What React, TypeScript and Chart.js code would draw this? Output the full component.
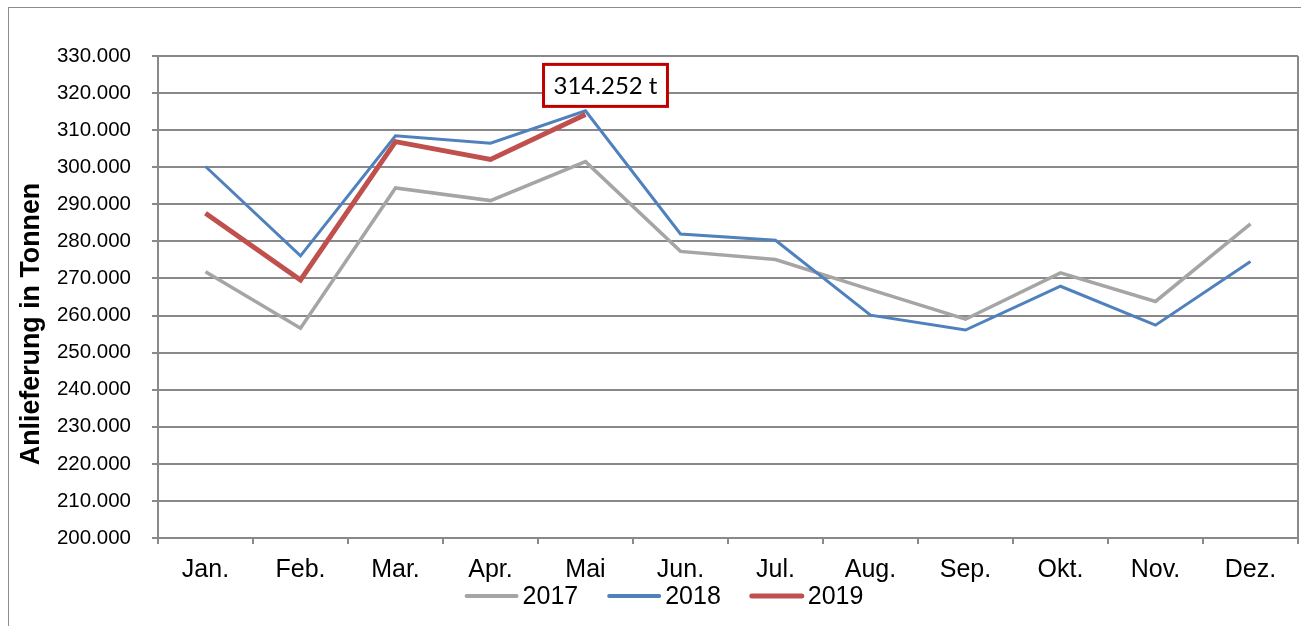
import React, { useEffect, useRef } from 'react';
import { Chart, registerables } from 'chart.js';

Chart.register(...registerables);

const months = ['Jan.', 'Feb.', 'Mar.', 'Apr.', 'Mai', 'Jun.', 'Jul.', 'Aug.', 'Sep.', 'Okt.', 'Nov.', 'Dez.'];
const values2017 = [271800, 256600, 294400, 291000, 301500, 277300, 275100, 267000, 259000, 271500, 263800, 284700];
const values2018 = [300200, 276100, 308500, 306500, 315200, 282000, 280300, 260100, 256100, 267900, 257400, 274600];
const values2019 = [287600, 269600, 306900, 302100, 314252, null, null, null, null, null, null, null];
const seriesLabels = ['2017', '2018', '2019'];
const seriesColors = ['#a5a5a5', '#4f81bd', '#c0504d'];
const seriesWidths = [3.5, 3, 5];
const yMin = 200000;
const yMax = 330000;
const yStep = 10000;
const axisTitle = 'Anlieferung in Tonnen';
const calloutSeries = 2;
const calloutIndex = 4;
const calloutUnit = ' t';

const GRID = '#898989';
const FONT = '"Liberation Sans", Arial, sans-serif';

function fmt(v: number): string {
  return String(Math.round(v)).replace(/\B(?=(\d{3})+(?!\d))/g, '.');
}

const decorPlugin = {
  id: 'decor',
  afterDatasetsDraw(chart: any) {
    const ctx = chart.ctx;
    const area = chart.chartArea;
    // right border of plot area
    ctx.save();
    ctx.strokeStyle = GRID;
    ctx.lineWidth = 2;
    ctx.beginPath();
    ctx.moveTo(Math.round(area.right), area.top);
    ctx.lineTo(Math.round(area.right), area.bottom);
    ctx.stroke();
    ctx.restore();

    // callout label
    const meta = chart.getDatasetMeta(calloutSeries);
    const pt = meta.data[calloutIndex];
    if (pt) {
      const val = chart.data.datasets[calloutSeries].data[calloutIndex];
      const text = fmt(val) + calloutUnit;
      ctx.save();
      ctx.font = '24px Lato, "Open Sans", sans-serif';
      const tw = ctx.measureText(text).width;
      const w = tw + 20;
      const h = 42;
      const cx = pt.x + 20;
      const bottom = pt.y - 8;
      const left = cx - w / 2;
      const top = bottom - h;
      ctx.fillStyle = '#ffffff';
      ctx.fillRect(left, top, w, h);
      ctx.strokeStyle = '#c00000';
      ctx.lineWidth = 3;
      ctx.strokeRect(left, top, w, h);
      ctx.fillStyle = '#000000';
      ctx.textAlign = 'center';
      ctx.textBaseline = 'middle';
      ctx.fillText(text, cx, top + h / 2 + 1);
      ctx.restore();
    }
  },
  afterDraw(chart: any) {
    const ctx = chart.ctx;
    // axis title
    ctx.save();
    ctx.font = 'bold 26.8px ' + FONT;
    ctx.fillStyle = '#000000';
    ctx.textAlign = 'center';
    ctx.textBaseline = 'middle';
    ctx.translate(23, 316);
    ctx.rotate(-Math.PI / 2);
    ctx.fillText(axisTitle, 0, 0);
    ctx.restore();

    // legend
    ctx.save();
    ctx.font = '25px ' + FONT;
    const lineLen = 54;
    const gap = 4;
    const spacing = 29;
    const ds = chart.data.datasets;
    const widths = ds.map((d: any) => ctx.measureText(d.label).width);
    let total = 0;
    widths.forEach((tw: number, i: number) => {
      total += lineLen + gap + tw + (i < widths.length - 1 ? spacing : 0);
    });
    let x = 655 - total / 2;
    const y = 588;
    ds.forEach((d: any, i: number) => {
      ctx.strokeStyle = d.borderColor;
      ctx.lineWidth = i === 2 ? 5 : 4;
      ctx.lineCap = 'round';
      ctx.beginPath();
      ctx.moveTo(x + 2, y);
      ctx.lineTo(x + lineLen - 2, y);
      ctx.stroke();
      ctx.fillStyle = '#000000';
      ctx.textAlign = 'left';
      ctx.textBaseline = 'middle';
      ctx.fillText(d.label, x + lineLen + gap, y + 1);
      x += lineLen + gap + widths[i] + spacing;
    });
    ctx.restore();
  },
};

export default function App() {
  const ref = useRef<HTMLCanvasElement | null>(null);

  useEffect(() => {
    if (!ref.current) return;
    const datasets = [values2017, values2018, values2019].map((vals, i) => ({
      label: seriesLabels[i],
      data: vals,
      borderColor: seriesColors[i],
      backgroundColor: seriesColors[i],
      borderWidth: seriesWidths[i],
      pointRadius: 0,
      pointHoverRadius: 0,
      tension: 0,
      fill: false,
      spanGaps: false,
      order: 3 - i,
    }));
    const chart = new Chart(ref.current, {
      type: 'line',
      data: { labels: months, datasets },
      options: {
        responsive: false,
        animation: false,
        devicePixelRatio: 1,
        layout: { padding: { top: 48, right: 3, bottom: 0, left: 0 } },
        plugins: {
          legend: { display: false },
          tooltip: { enabled: false },
          title: { display: false },
        },
        scales: {
          x: {
            type: 'category',
            offset: true,
            grid: {
              display: true,
              offset: true,
              drawOnChartArea: false,
              drawTicks: true,
              tickLength: 6,
              color: GRID,
              lineWidth: 2,
            },
            border: { display: true, color: GRID, width: 2 },
            ticks: {
              color: '#000000',
              font: { family: FONT, size: 25 },
              padding: 11,
              maxRotation: 0,
              autoSkip: false,
            },
            afterFit(scale: any) {
              scale.height = 88;
            },
          },
          y: {
            min: yMin,
            max: yMax,
            grid: {
              color: GRID,
              lineWidth: 2,
              drawTicks: true,
              tickLength: 6,
            },
            border: { display: true, color: GRID, width: 2 },
            ticks: {
              stepSize: yStep,
              color: '#000000',
              font: { family: FONT, size: 20.5 },
              padding: 21,
              callback: (v: any) => fmt(Number(v)),
            },
            afterFit(scale: any) {
              scale.width = 149;
            },
          },
        },
      },
      plugins: [decorPlugin],
    });
    return () => chart.destroy();
  }, []);

  return (
    <div
      style={{
        position: 'fixed',
        left: 8,
        top: 7,
        width: 1293,
        height: 619,
        borderLeft: '1px solid #8c8c8c',
        borderTop: '1px solid #8c8c8c',
        background: '#ffffff',
        overflow: 'hidden',
      }}
    >
      <canvas ref={ref} width={1292} height={618} style={{ display: 'block', width: 1292, height: 618 }} />
    </div>
  );
}
